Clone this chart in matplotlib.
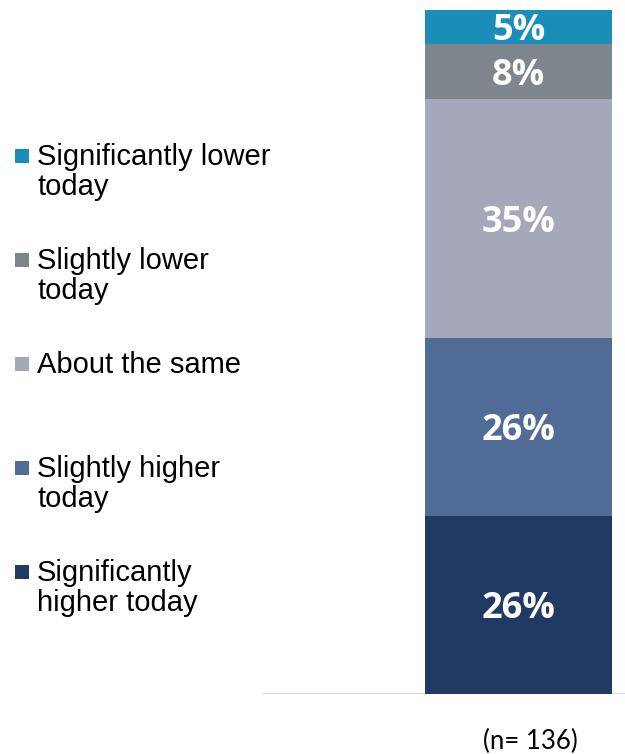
import matplotlib.pyplot as plt
from matplotlib import font_manager as fm
from matplotlib.patches import Rectangle

# stacked from bottom to top
categories = ['Significantly\nhigher today', 'Slightly higher\ntoday', 'About the same',
              'Slightly lower\ntoday', 'Significantly lower\ntoday']
values = [26, 26, 35, 8, 5]
colors = ['#213A63', '#506C96', '#A5A7BA', '#7F858C', '#1B8DB9']
sample_note = '(n= 136)'

# pick a regular-width bold Open Sans file if there is one
bold_files = [f.fname for f in fm.fontManager.ttflist
              if f.name == 'Open Sans' and f.weight in (700, 'bold')
              and f.stretch == 'normal' and 'ondensed' not in f.fname
              and 'talic' not in f.fname]
if bold_files:
    label_font = fm.FontProperties(fname=bold_files[0], size=26)
else:
    label_font = fm.FontProperties(family='DejaVu Sans', weight='bold', size=22)

W, H = 625, 754
fig = plt.figure(figsize=(W / 100, H / 100), dpi=100)
ax = fig.add_axes([262 / W, 60 / H, 363 / W, 684 / H])

bottom = 0
for v, c in zip(values, colors):
    ax.bar(0.7066, v, width=0.515, bottom=bottom, color=c)
    # nudge down a little: digits have no descenders
    ax.annotate(f'{v}%', (0.7066, bottom + v / 2), xytext=(0, -3),
                textcoords='offset points', ha='center', va='center',
                color='white', fontproperties=label_font)
    bottom += v

ax.set_xlim(0, 1)
ax.set_ylim(0, sum(values))
ax.axis('off')
ax.axhline(0, color='#D9D9D9', lw=1.5, zorder=0)

# legend, top entry first, drawn by hand so the marker sits on the first line
for i, (lab, c) in enumerate(zip(categories[::-1], colors[::-1])):
    base = 167 + i * 104
    fig.add_artist(Rectangle((15 / W, 1 - (base - 4) / H), 14 / W, 14 / H,
                             transform=fig.transFigure, color=c, lw=0))
    fig.text(37 / W, 1 - (base - 24) / H, lab, ha='left', va='top',
             fontsize=21, family='Liberation Sans', linespacing=1.1)

fig.text(530 / W, 1 - 741 / H, sample_note, ha='center', va='center',
         fontsize=18.5, family='Lato')

fig.savefig('out.png', dpi=100)
